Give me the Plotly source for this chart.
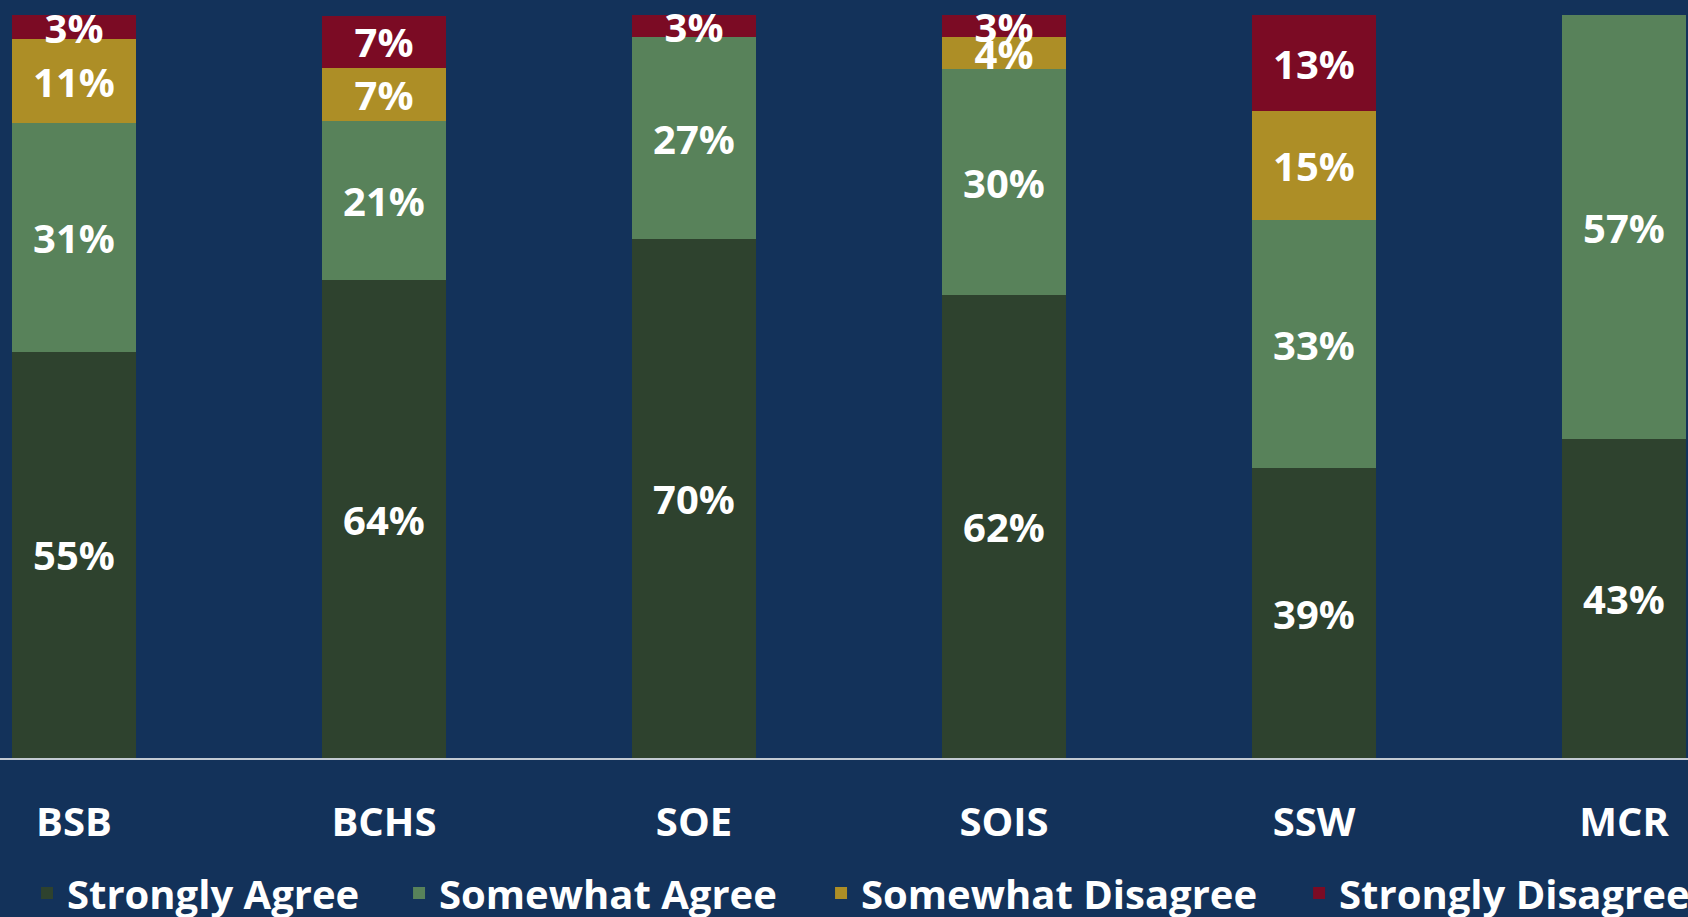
import plotly.graph_objects as go

schools = ["BSB", "BCHS", "SOE", "SOIS", "SSW", "MCR"]

strongly_agree = [54.7, 64.3, 69.8, 62.3, 39.0, 42.9]
somewhat_agree = [30.8, 21.4, 27.2, 30.4, 33.4, 57.1]
somewhat_disagree = [11.2, 7.1, 0, 4.3, 14.6, 0]
strongly_disagree = [3.3, 7.1, 3.0, 3.0, 13.0, 0]

series = [
    ("Strongly Agree", strongly_agree, "#2E422E"),
    ("Somewhat Agree", somewhat_agree, "#58825A"),
    ("Somewhat Disagree", somewhat_disagree, "#AD8E26"),
    ("Strongly Disagree", strongly_disagree, "#7B0B24"),
]

bg = "#13325A"
font_fam = "Open Sans"
# left edge of each legend entry (paper fraction), one legend per series
legend_x = [0.016, 0.2364, 0.4864, 0.7696]

fig = go.Figure()
for i, (name, vals, col) in enumerate(series):
    # no label on empty segments
    txt = [f"{v:.0f}%" if v > 0 else "" for v in vals]
    fig.add_trace(go.Bar(
        x=schools, y=vals, name=name,
        legend="legend" if i == 0 else f"legend{i + 1}",
        marker=dict(color=col, line=dict(width=0)),
        text=txt, textposition="inside", insidetextanchor="middle",
        textangle=0,
        textfont=dict(color="white", family=font_fam, size=40, weight=700),
    ))

legends = {}
for i, lx in enumerate(legend_x):
    key = "legend" if i == 0 else f"legend{i + 1}"
    legends[key] = dict(
        orientation="h", x=lx, xanchor="left", y=-0.178, yanchor="middle",
        font=dict(color="white", family=font_fam, size=40, weight=700),
        bgcolor="rgba(0,0,0,0)", itemwidth=30,
    )

fig.update_layout(
    barmode="stack",
    bargap=0.6,
    width=1688,
    height=917,
    margin=dict(l=0, r=0, t=0, b=159, autoexpand=False),
    paper_bgcolor=bg,
    plot_bgcolor=bg,
    uniformtext=dict(minsize=40, mode="show"),
    showlegend=True,
    **legends,
)
fig.update_xaxes(
    range=[-0.2387, 5.2065],
    showline=True, linecolor="#C3CAD3", linewidth=2,
    ticks="outside", ticklen=28, tickcolor="rgba(0,0,0,0)",
    tickfont=dict(color="white", family=font_fam, size=40, weight=700),
    showgrid=False, zeroline=False, fixedrange=True, automargin=False,
)
fig.update_yaxes(
    range=[0, 102.0], visible=False, showgrid=False, fixedrange=True,
)

fig.write_html(
    "out.html",
    config={"displayModeBar": False},
    post_script="document.body.style.margin='0';",
)
